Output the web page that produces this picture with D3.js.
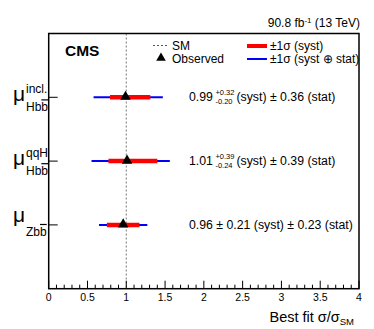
<!DOCTYPE html>
<html lang="en">
<head>
  <meta charset="UTF-8">
  <title>CMS best fit signal strength</title>
  <script src="https://cdn.jsdelivr.net/npm/d3@7"></script>
  <style>
    body { margin: 0; background: #fff; }
    svg { font-family: "Liberation Sans", Arial, Helvetica, sans-serif; }
    .ob { text-decoration: overline; }
  </style>
</head>
<body>
  <svg width="374" height="329"></svg>

  <script>
    // measurements, top to bottom
    var rows = ["incl.", "qqH", ""];
    var labelSubs = ["Hb", "Hb", "Zb"];
    var central = [0.99, 1.01, 0.96];
    var systUp = [0.32, 0.39, 0.21];
    var systDown = [0.20, 0.24, 0.21];
    var stat = [0.36, 0.39, 0.23];
    var systLabels = [["+0.32", "-0.20"], ["+0.39", "-0.24"], null];
    var xTickLabels = ["0", "0.5", "1", "1.5", "2", "2.5", "3", "3.5", "4"];

    var svg = d3.select("svg"),
      pLeft = 48.7, pRight = 359, pTop = 33.5, pBottom = 288.7;

    var x = d3.scaleLinear().domain([0, 4]).range([pLeft, pRight]);
    var y = d3.scaleLinear().domain([0, 4]).range([pTop, pBottom]);

    // SM line
    svg.append("line")
      .attr("x1", x(1)).attr("x2", x(1))
      .attr("y1", pTop).attr("y2", pBottom)
      .attr("stroke", "#777").attr("stroke-width", 1)
      .attr("stroke-dasharray", "2,2");

    // x ticks
    var minor = d3.range(0, 40).map(function (i) { return i / 10; }).filter(function (v, i) { return i % 5 != 0; });
    svg.selectAll(".minor").data(minor).enter().append("line")
      .attr("x1", function (d) { return x(d); }).attr("x2", function (d) { return x(d); })
      .attr("y1", pBottom).attr("y2", pBottom - 4)
      .attr("stroke", "#000").attr("stroke-width", 1);
    svg.selectAll(".major").data(xTickLabels).enter().append("line")
      .attr("x1", function (d) { return x(+d); }).attr("x2", function (d) { return x(+d); })
      .attr("y1", pBottom).attr("y2", pBottom - 8)
      .attr("stroke", "#000").attr("stroke-width", 1);
    svg.selectAll(".tl").data(xTickLabels).enter().append("text")
      .attr("x", function (d) { return x(+d); })
      .attr("y", pBottom + 12)
      .attr("text-anchor", "middle")
      .attr("font-size", 10.5)
      .text(function (d) { return d; });

    // y ticks
    rows.forEach(function (r, i) {
      svg.append("line")
        .attr("x1", pLeft).attr("x2", pLeft + 9)
        .attr("y1", y(i + 1)).attr("y2", y(i + 1))
        .attr("stroke", "#000").attr("stroke-width", 1);
    });

    // error bars
    rows.forEach(function (r, i) {
      var c = central[i];
      var tu = Math.sqrt(systUp[i] * systUp[i] + stat[i] * stat[i]);
      var td = Math.sqrt(systDown[i] * systDown[i] + stat[i] * stat[i]);
      svg.append("line")
        .attr("x1", x(c - td)).attr("x2", x(c + tu))
        .attr("y1", y(i + 1)).attr("y2", y(i + 1))
        .attr("stroke", "#0000ff").attr("stroke-width", 2);
      svg.append("line")
        .attr("x1", x(c - systDown[i])).attr("x2", x(c + systUp[i]))
        .attr("y1", y(i + 1)).attr("y2", y(i + 1))
        .attr("stroke", "#ff0000").attr("stroke-width", 4.5);
      svg.append("path")
        .attr("d", d3.symbol(d3.symbolTriangle, 48)())
        .attr("transform", "translate(" + x(c) + "," + (y(i + 1) - 0.5) + ")")
        .attr("fill", "#000");
    });

    // numbers on the right
    rows.forEach(function (r, i) {
      var yy = y(i + 1) + 4;
      var t = svg.append("text").attr("x", 189).attr("y", yy).attr("font-size", 12.3)
        .text(central[i].toFixed(2));
      var xx = 189 + t.node().getComputedTextLength() + 2.5;
      if (systLabels[i]) {
        var a = svg.append("text").attr("x", xx).attr("y", yy - 6.5).attr("font-size", 7.5).text(systLabels[i][0]);
        svg.append("text").attr("x", xx).attr("y", yy + 2.5).attr("font-size", 7.5).text(systLabels[i][1]);
        xx += a.node().getComputedTextLength() + 2;
        svg.append("text").attr("x", xx).attr("y", yy).attr("font-size", 12.3)
          .text("(syst) \u00b1 " + stat[i].toFixed(2) + " (stat)");
      } else {
        t.text(central[i].toFixed(2) + " \u00b1 " + systUp[i].toFixed(2) + " (syst) \u00b1 " + stat[i].toFixed(2) + " (stat)");
      }
    });

    // row labels
    rows.forEach(function (r, i) {
      var yy = y(i + 1);
      svg.append("text").attr("x", 13).attr("y", yy + (i == 2 ? -3 : 4))
        .attr("font-size", 21).text("\u03bc");
      if (r) {
        svg.append("text").attr("x", 26).attr("y", yy - 4).attr("font-size", 12).text(r);
      }
      var b = svg.append("text").attr("x", 26).attr("y", yy + (i == 2 ? 11 : 14)).attr("font-size", 12);
      b.append("tspan").text(labelSubs[i]);
      b.append("tspan").attr("class", "ob").text("b");
    });

    // frame
    svg.append("rect")
      .attr("x", pLeft).attr("y", pTop)
      .attr("width", pRight - pLeft).attr("height", pBottom - pTop)
      .attr("fill", "none").attr("stroke", "#000").attr("stroke-width", 1.5);

    // header
    var h = svg.append("text").attr("x", pRight + 1).attr("y", 27).attr("text-anchor", "end").attr("font-size", 12);
    h.append("tspan").text("90.8 fb");
    h.append("tspan").attr("dy", -4.5).attr("font-size", 8).text("-1");
    h.append("tspan").attr("dy", 4.5).text(" (13 TeV)");

    svg.append("text").attr("x", 65).attr("y", 55.5).attr("font-size", 15.5)
      .attr("font-weight", "bold").text("CMS");

    // legend
    svg.append("line").attr("x1", 153).attr("x2", 167).attr("y1", 45.5).attr("y2", 45.5)
      .attr("stroke", "#555").attr("stroke-dasharray", "2,2");
    svg.append("text").attr("x", 172).attr("y", 49.5).attr("font-size", 12).text("SM");
    svg.append("path").attr("d", d3.symbol(d3.symbolTriangle, 40)())
      .attr("transform", "translate(161,58)").attr("fill", "#000");
    svg.append("text").attr("x", 172).attr("y", 62.5).attr("font-size", 12).text("Observed");
    svg.append("line").attr("x1", 247).attr("x2", 267).attr("y1", 46).attr("y2", 46)
      .attr("stroke", "#ff0000").attr("stroke-width", 4);
    svg.append("text").attr("x", 270).attr("y", 50).attr("font-size", 12).text("\u00b11\u03c3 (syst)");
    svg.append("line").attr("x1", 247).attr("x2", 267).attr("y1", 59).attr("y2", 59)
      .attr("stroke", "#0000ff").attr("stroke-width", 2);
    svg.append("text").attr("x", 270).attr("y", 63).attr("font-size", 12).text("\u00b11\u03c3 (syst \u2295 stat)");

    // axis title
    var at = svg.append("text").attr("x", pRight - 5).attr("y", 322).attr("text-anchor", "end").attr("font-size", 14.5);
    at.append("tspan").text("Best fit \u03c3/\u03c3");
    at.append("tspan").attr("dy", 3).attr("font-size", 9.5).text("SM");
  </script>
</body>
</html>
